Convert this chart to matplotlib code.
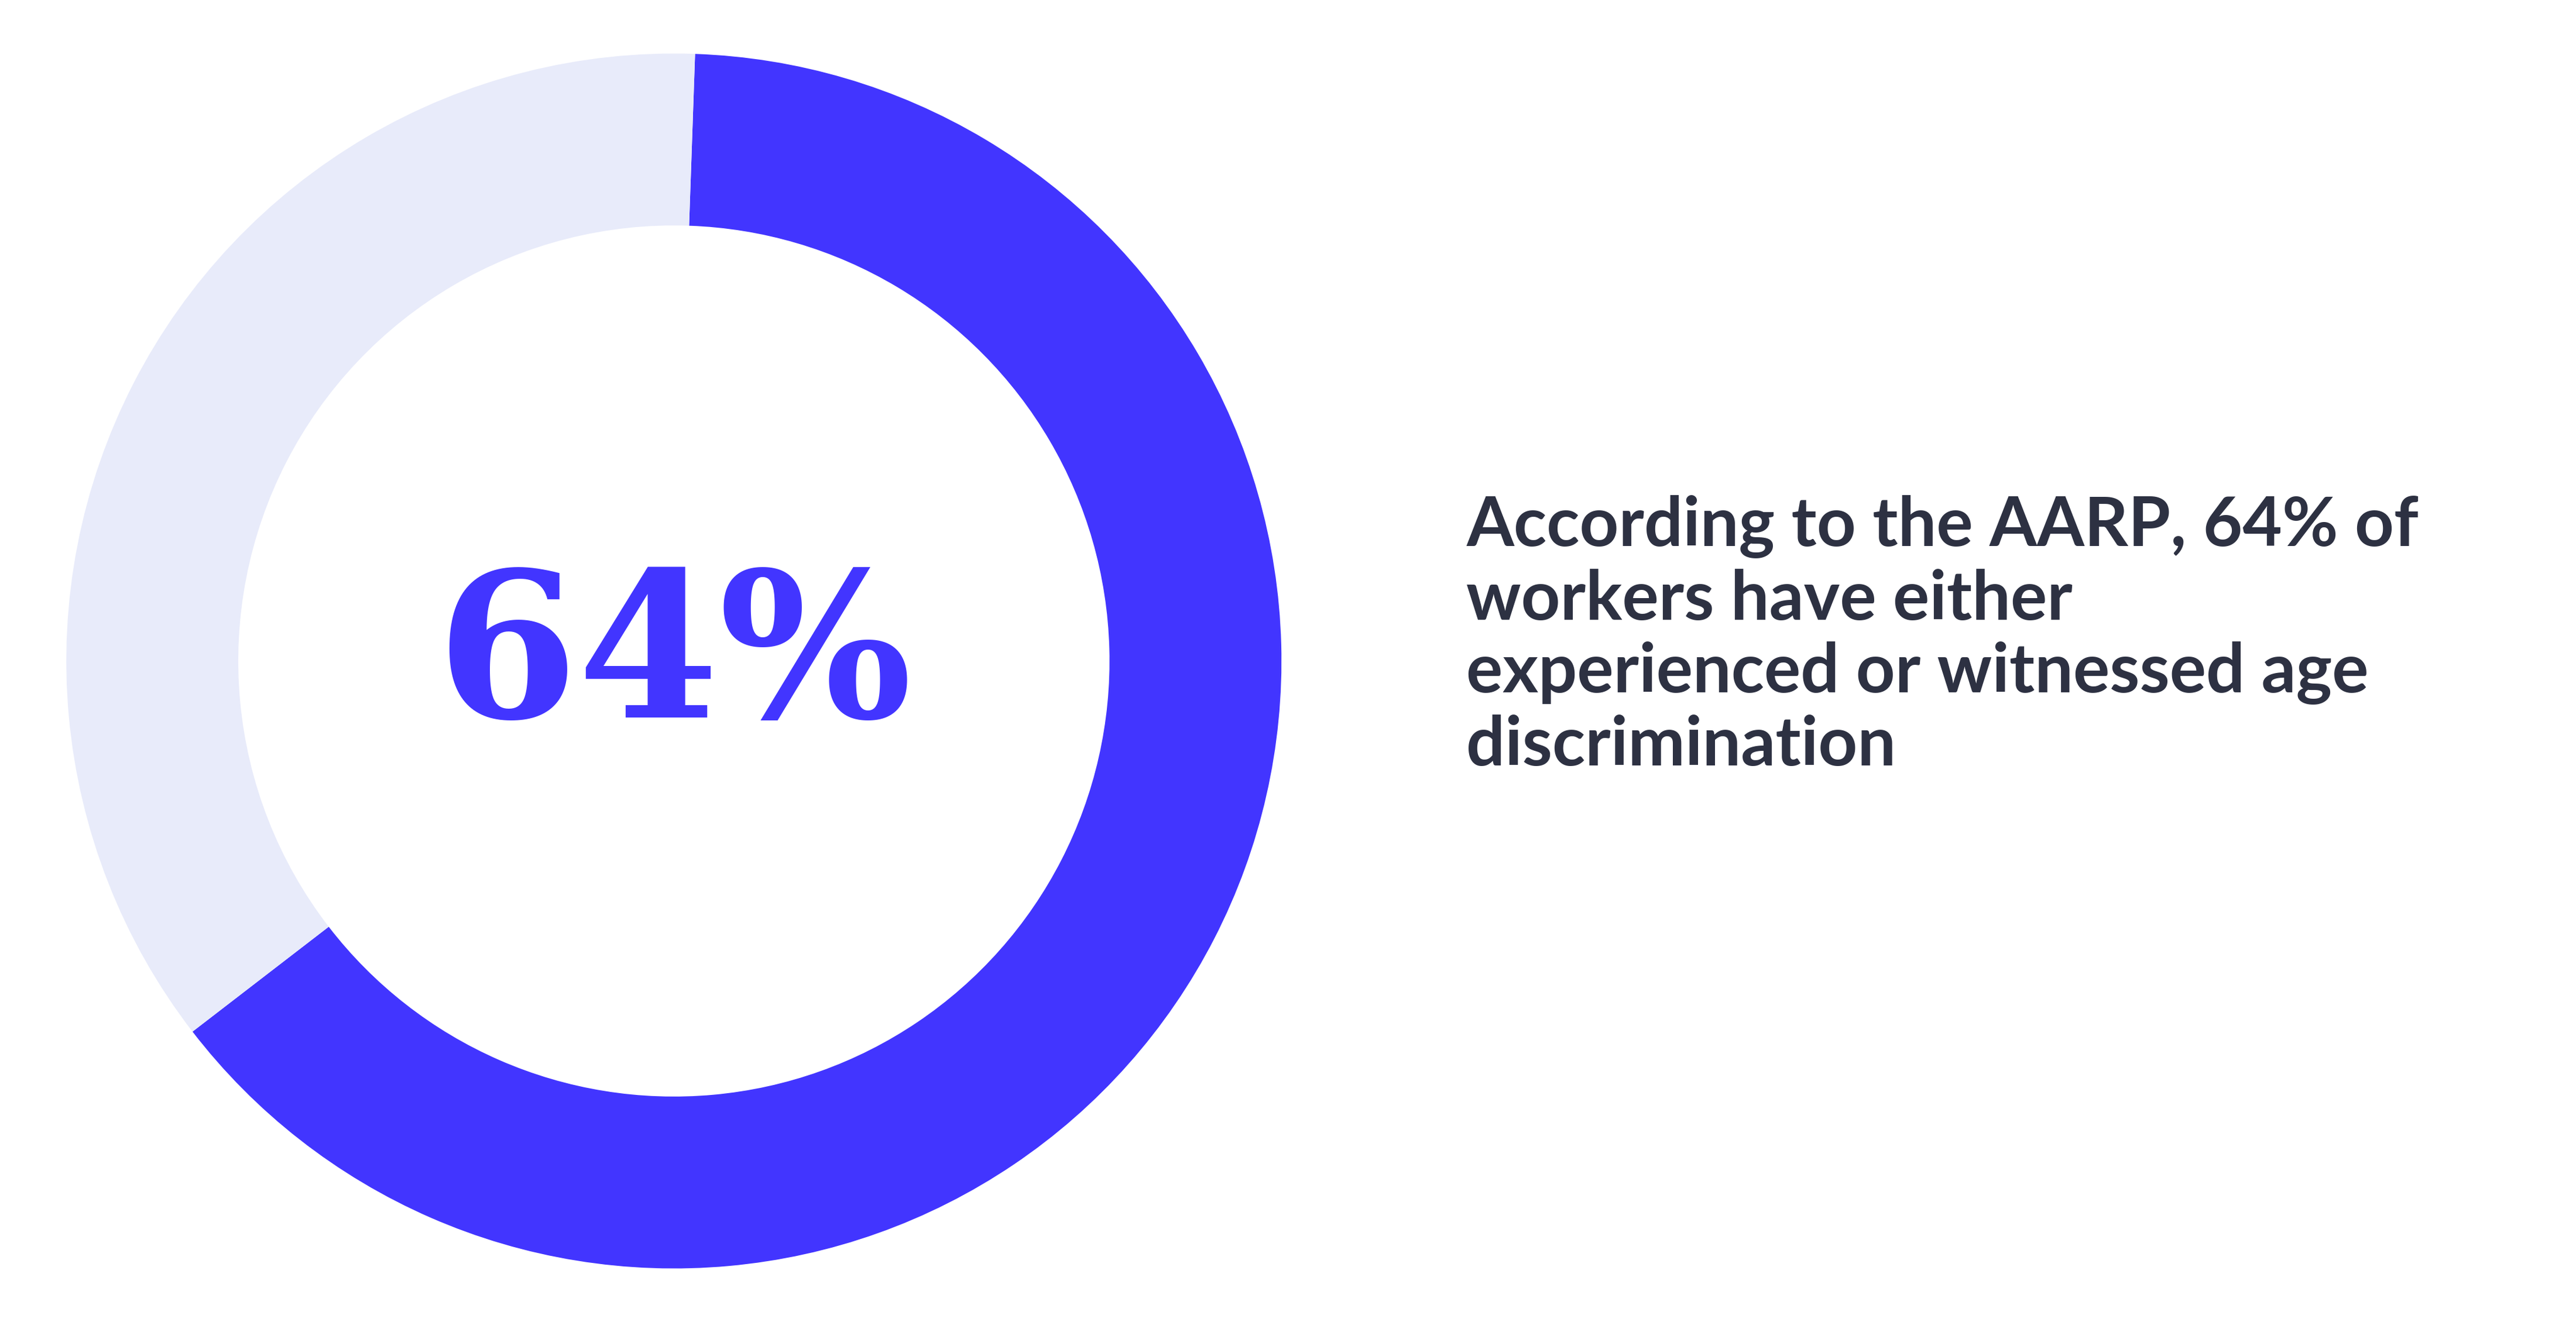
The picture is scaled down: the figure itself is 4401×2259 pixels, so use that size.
import matplotlib
matplotlib.use("Agg")
import matplotlib.pyplot as plt

values = [64, 36]
colors = ["#4235FF", "#E8EBFA"]
center_label = "64%"
caption = ("According to the AARP, 64% of\nworkers have either\n"
           "experienced or witnessed age\ndiscrimination")

fig = plt.figure(figsize=(44.01, 22.59), dpi=100)
fig.patch.set_facecolor("white")

ax = fig.add_axes([0.0257, 0.0405, 0.4718, 0.919])
ax.pie(values, colors=colors, startangle=88, counterclock=False,
       radius=1.0, wedgeprops=dict(width=0.283, edgecolor="none"))
ax.set_xlim(-1, 1)
ax.set_ylim(-1, 1)
ax.set_aspect("equal")
ax.axis("off")
ax.text(0, 0.0, center_label, ha="center", va="center", fontsize=250,
        fontweight="bold", family="DejaVu Serif", color="#4235FF")

fig.text(888 / 1560, 1 - 300 / 800.8, caption, ha="left", va="top",
         fontsize=84, family="Lato", fontweight="bold", color="#2D3142",
         linespacing=1.2)

fig.savefig("out.png", dpi=100, facecolor="white")
